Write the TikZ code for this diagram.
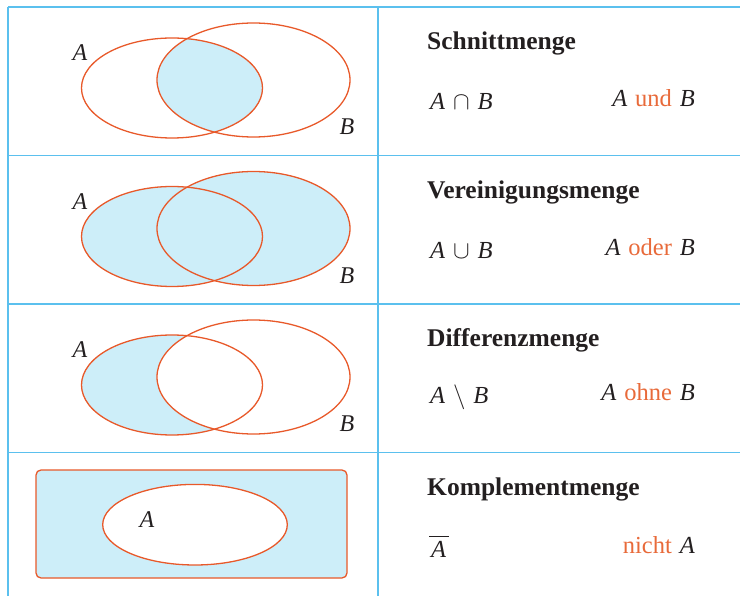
\documentclass[tikz,border=0pt]{standalone}
\usepackage{fontspec}
\setmainfont{Liberation Serif}
\definecolor{setline}{HTML}{E8592A}
\definecolor{setfill}{HTML}{CDEEF9}
\definecolor{gridblue}{HTML}{5BC0EE}
\definecolor{wordorange}{HTML}{E86A3A}
\definecolor{ink}{HTML}{231F20}
\tikzset{
  setedge/.style={draw=setline, line width=1.3pt},
  grid line/.style={draw=gridblue, line width=1.5pt},
  titletext/.style={anchor=base west, inner sep=0pt, font=\fontsize{25.5}{30}\selectfont\bfseries, text=ink},
  formtext/.style={anchor=base west, inner sep=0pt, font=\fontsize{24.5}{29}\selectfont, text=ink},
  wordtext/.style={anchor=base east, inner sep=0pt, font=\fontsize{24.5}{29}\selectfont, text=ink},
  setlabel/.style={inner sep=0pt, font=\fontsize{24}{28}\selectfont\itshape, text=ink}
}
\newcommand{\ellA}[1]{(172,88+#1) ellipse [x radius=90.5, y radius=50]}
\newcommand{\ellB}[1]{(253.5,80+#1) ellipse [x radius=96.5, y radius=57]}
\newcommand{\wsp}{\hspace{0.32em}}
\begin{document}
\begin{tikzpicture}[x=1pt,y=-1pt]
\useasboundingbox (0,0) rectangle (740,596);

% ---- row 1: intersection (offset 0)
\begin{scope}
  \clip \ellA{0};
  \fill[setfill] \ellB{0};
\end{scope}
\draw[setedge] \ellA{0};
\draw[setedge] \ellB{0};
\node[setlabel] (a1) at (80,53) {A};
\node[setlabel] (b1) at (347,127) {B};
\node[titletext] (t1) at (427,50) {Schnittmenge};
\node[formtext] (f1) at (430,110) {\textit{A}\wsp$\cap$\wsp\textit{B}};
\node[wordtext] (w1) at (695,107) {\textit{A}\wsp\textcolor{wordorange}{und}\wsp\textit{B}};

% ---- row 2: union (offset 148.5)
\fill[setfill] \ellA{148.5};
\fill[setfill] \ellB{148.5};
\draw[setedge] \ellA{148.5};
\draw[setedge] \ellB{148.5};
\node[setlabel] (a2) at (80,201.5) {A};
\node[setlabel] (b2) at (347,275.5) {B};
\node[titletext] (t2) at (427,198.5) {Vereinigungsmenge};
\node[formtext] (f2) at (430,258.5) {\textit{A}\wsp$\cup$\wsp\textit{B}};
\node[wordtext] (w2) at (695,255.5) {\textit{A}\wsp\textcolor{wordorange}{oder}\wsp\textit{B}};

% ---- row 3: difference (offset 297)
\fill[setfill] \ellA{297};
\begin{scope}
  \clip \ellA{297};
  \fill[white] \ellB{297};
\end{scope}
\draw[setedge] \ellA{297};
\draw[setedge] \ellB{297};
\node[setlabel] (a3) at (80,350) {A};
\node[setlabel] (b3) at (347,424) {B};
\node[titletext] (t3) at (427,347) {Differenzmenge};
\node[formtext] (f3) at (430,403) {\textit{A}\wsp$\setminus$\wsp\textit{B}};
\node[wordtext] (w3) at (695,401) {\textit{A}\wsp\textcolor{wordorange}{ohne}\wsp\textit{B}};

% ---- row 4: complement (offset 445.5)
\draw[setedge, fill=setfill, rounded corners=5pt] (36,470) rectangle (347,578);
\draw[setedge, fill=white] (195,524.7) ellipse [x radius=92.3, y radius=40.3];
\node[setlabel] (a4) at (147,520) {A};
\node[titletext] (t4) at (427,495.5) {Komplementmenge};
\node[formtext] (f4) at (431,557) {\textit{A}};
\draw[ink, line width=1pt] ([xshift=-2pt,yshift=4pt]f4.north west) -- ([xshift=3pt,yshift=4pt]f4.north east);
\node[wordtext] (w4) at (695,553.5) {\textcolor{wordorange}{nicht}\wsp\textit{A}};

% ---- table grid
\draw[grid line] (8,7) -- (740,7);
\draw[grid line] (8,155.5) -- (740,155.5);
\draw[grid line] (8,304) -- (740,304);
\draw[grid line] (8,452.5) -- (740,452.5);
\draw[grid line] (8,7) -- (8,596);
\draw[grid line] (378,7) -- (378,596);
\end{tikzpicture}
\end{document}
